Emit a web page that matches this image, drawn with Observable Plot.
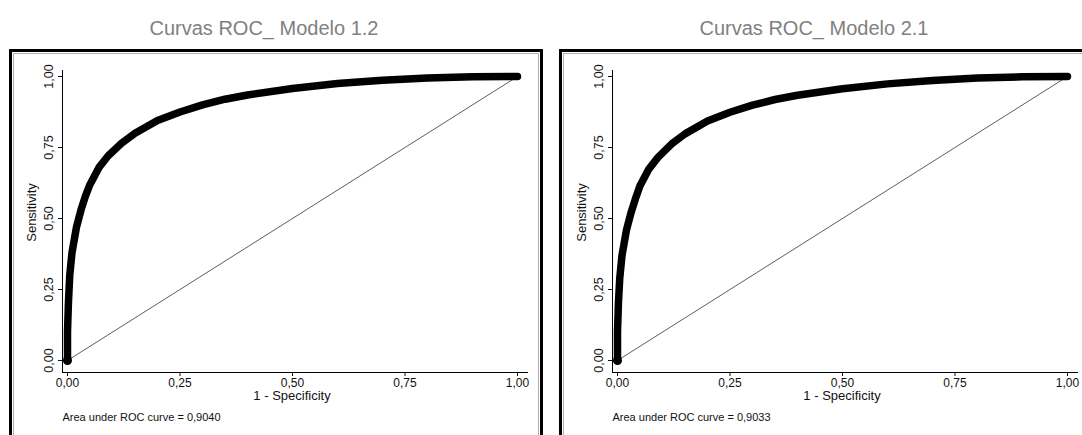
<!DOCTYPE html>
<html>
<head>
<meta charset="utf-8">
<script src="https://cdn.jsdelivr.net/npm/d3@7"></script>
<script src="https://cdn.jsdelivr.net/npm/@observablehq/plot@0.6"></script>
<style>
  html, body { margin: 0; padding: 0; background: #fff; }
  body { width: 1082px; height: 435px; position: relative; overflow: hidden; font-family: "Liberation Sans", Arial, sans-serif; }
  .title { position: absolute; top: 17px; width: 540px; text-align: center; font-size: 20px; color: #808080; }
  .frame { position: absolute; top: 49px; height: 400px; box-sizing: border-box; border: 3px solid #000; border-bottom: none; pointer-events: none; z-index: 2; }
  .frame .inner { position: absolute; left: 1px; top: 1px; right: 1px; bottom: -5px; border: 1px solid #b0b0b0; }
</style>
</head>
<body>
<script>
// ---- data ----
const titles = ["Curvas ROC_ Modelo 1.2", "Curvas ROC_ Modelo 2.1"];
const aucLabels = ["Area under ROC curve = 0,9040", "Area under ROC curve = 0,9033"];
const fpr1 = [0, 0, 0.002, 0.005, 0.01, 0.02, 0.03, 0.04, 0.05, 0.07, 0.09, 0.12, 0.15, 0.2, 0.25, 0.3, 0.35, 0.4, 0.5, 0.6, 0.7, 0.8, 0.9, 1.0];
const tpr1 = [0, 0.1, 0.2, 0.3, 0.38, 0.47, 0.53, 0.58, 0.62, 0.68, 0.72, 0.765, 0.80, 0.845, 0.875, 0.90, 0.92, 0.935, 0.958, 0.975, 0.987, 0.995, 0.999, 1.0];
const fpr2 = [0, 0, 0.002, 0.005, 0.01, 0.02, 0.03, 0.04, 0.05, 0.07, 0.09, 0.12, 0.15, 0.2, 0.25, 0.3, 0.35, 0.4, 0.5, 0.6, 0.7, 0.8, 0.9, 1.0];
const tpr2 = [0, 0.1, 0.2, 0.29, 0.37, 0.46, 0.52, 0.57, 0.615, 0.675, 0.715, 0.762, 0.798, 0.843, 0.874, 0.899, 0.919, 0.934, 0.957, 0.974, 0.986, 0.995, 0.999, 1.0];
const tickValues = [0, 0.25, 0.5, 0.75, 1];
const diagonal = [0, 1];
const xLabel = "1 - Specificity";
const yLabel = "Sensitivity";

const fmt = d => d3.format(".2f")(d).replace(".", ",");
const FONT = "Liberation Sans, Arial, sans-serif";

function panel(fpr, tpr, auc) {
  const data = fpr.map((x, i) => ({x, y: tpr[i]}));
  return Plot.plot({
    width: 545,
    height: 435,
    marginLeft: 62,
    marginRight: 18,
    marginTop: 70,
    marginBottom: 63,
    style: {background: "transparent", fontFamily: FONT, fontSize: "12px", color: "#111", overflow: "visible"},
    x: {domain: [0, 1], range: [67, 517]},
    y: {domain: [0, 1], range: [360, 76]},
    marks: [
      Plot.frame({anchor: "left", stroke: "#000", strokeWidth: 1}),
      Plot.frame({anchor: "bottom", stroke: "#000", strokeWidth: 1}),
      Plot.axisX({ticks: tickValues, tickFormat: fmt, tickSize: 4, tickPadding: 2, label: null, fontSize: 12}),
      Plot.axisY({ticks: tickValues, tickFormat: fmt, tickSize: 4, tickPadding: 6, tickRotate: -90, label: null, fontSize: 12.5}),
      Plot.line(diagonal, {x: d => d, y: d => d, stroke: "#333", strokeWidth: 0.8}),
      Plot.line(data, {x: "x", y: "y", stroke: "#000", strokeWidth: 7.5, strokeLinecap: "round", strokeLinejoin: "round"}),
      Plot.dot(data.slice(0, 1), {x: "x", y: "y", r: 4.5, fill: "#000"}),
      Plot.text([xLabel], {frameAnchor: "bottom", text: d => d, dy: 27, dx: -3, fontSize: 13}),
      Plot.text([yLabel], {frameAnchor: "left", text: d => d, textAnchor: "middle", dx: -31, dy: -9, rotate: -90, fontSize: 13}),
      Plot.text([auc], {frameAnchor: "bottom-left", text: d => d, dy: 48, textAnchor: "start", fontSize: 11})
    ]
  });
}

const offsets = [0, 550];
const series = [[fpr1, tpr1], [fpr2, tpr2]];
offsets.forEach((off, i) => {
  const t = document.createElement("div");
  t.className = "title";
  t.style.left = (off - 6) + "px";
  t.textContent = titles[i];
  document.body.appendChild(t);

  const svg = panel(series[i][0], series[i][1], aucLabels[i]);
  svg.style.position = "absolute";
  svg.style.left = off + "px";
  svg.style.top = "0px";
  document.body.appendChild(svg);

  const f = document.createElement("div");
  f.className = "frame";
  f.style.left = (9 + off) + "px";
  f.style.width = (i === 0 ? 534 : 540) + "px";
  const inner = document.createElement("div");
  inner.className = "inner";
  f.appendChild(inner);
  document.body.appendChild(f);
});
</script>
</body>
</html>
